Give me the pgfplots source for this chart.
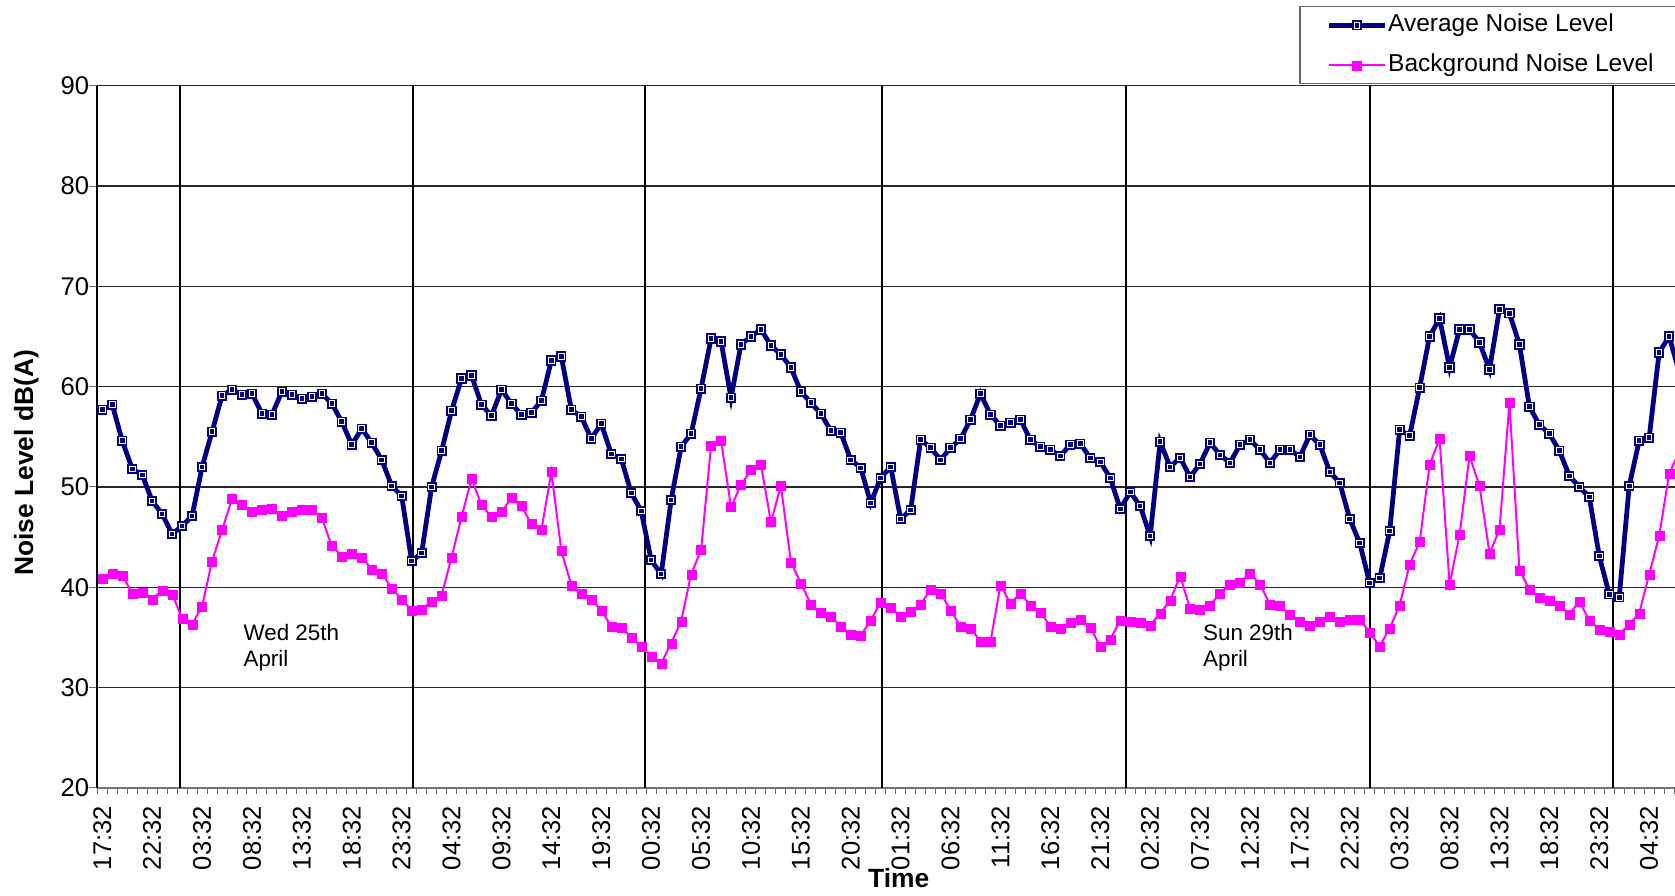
\documentclass[border=0pt]{standalone}
\usepackage{fontspec}
\setmainfont{Liberation Sans}
\usepackage{pgfplots}
\pgfplotsset{compat=1.18}
\usepackage{pgfplotstable}
\definecolor{navyline}{RGB}{0,0,128}
\definecolor{magline}{RGB}{255,0,255}

\pgfdeclareplotmark{dsq}{%
  \pgfpathrectangle{\pgfqpoint{-\pgfplotmarksize}{-\pgfplotmarksize}}{\pgfqpoint{2\pgfplotmarksize}{2\pgfplotmarksize}}%
  \pgfusepathqfill
  \pgfsetstrokecolor{white}\pgfsetlinewidth{0.5pt}%
  \pgfpathrectangle{\pgfqpoint{-0.55\pgfplotmarksize}{-0.55\pgfplotmarksize}}{\pgfqpoint{1.1\pgfplotmarksize}{1.1\pgfplotmarksize}}%
  \pgfusepathqstroke
}

\pgfplotstableread{
i avg bg
0 57.7 40.9
1 58.2 41.4
2 54.6 41.2
3 51.8 39.4
4 51.2 39.5
5 48.6 38.8
6 47.3 39.7
7 45.3 39.3
8 46.1 36.9
9 47.1 36.3
10 52.0 38.1
11 55.5 42.6
12 59.1 45.7
13 59.7 48.8
14 59.2 48.2
15 59.3 47.5
16 57.3 47.7
17 57.2 47.8
18 59.5 47.1
19 59.2 47.5
20 58.8 47.7
21 59.0 47.7
22 59.3 46.9
23 58.3 44.1
24 56.5 43.1
25 54.2 43.4
26 55.8 43.0
27 54.4 41.8
28 52.7 41.4
29 50.1 39.9
30 49.1 38.8
31 42.6 37.7
32 43.4 37.8
33 50.0 38.6
34 53.6 39.2
35 57.6 43.0
36 60.8 47.0
37 61.1 50.8
38 58.2 48.2
39 57.1 47.0
40 59.7 47.5
41 58.3 48.9
42 57.2 48.1
43 57.4 46.3
44 58.6 45.7
45 62.6 51.5
46 63.0 43.6
47 57.7 40.2
48 57.0 39.4
49 54.8 38.8
50 56.3 37.7
51 53.3 36.1
52 52.8 36.0
53 49.4 35.0
54 47.6 34.1
55 42.7 33.1
56 41.3 32.4
57 48.7 34.4
58 54.0 36.6
59 55.3 41.3
60 59.8 43.7
61 64.8 54.1
62 64.5 54.6
63 58.9 48.0
64 64.2 50.2
65 65.0 51.7
66 65.7 52.2
67 64.1 46.5
68 63.2 50.1
69 61.9 42.5
70 59.5 40.4
71 58.4 38.3
72 57.3 37.5
73 55.6 37.1
74 55.4 36.1
75 52.7 35.3
76 51.9 35.2
77 48.4 36.7
78 50.9 38.5
79 52.0 38.0
80 46.8 37.1
81 47.7 37.6
82 54.7 38.3
83 53.9 39.8
84 52.7 39.4
85 53.9 37.7
86 54.8 36.1
87 56.7 35.9
88 59.3 34.6
89 57.2 34.6
90 56.1 40.2
91 56.4 38.4
92 56.7 39.4
93 54.7 38.2
94 54.0 37.5
95 53.7 36.1
96 53.1 35.9
97 54.2 36.5
98 54.3 36.8
99 52.9 36.0
100 52.5 34.1
101 50.9 34.8
102 47.8 36.7
103 49.5 36.6
104 48.1 36.5
105 45.1 36.2
106 54.5 37.4
107 52.0 38.7
108 52.9 41.1
109 51.0 37.9
110 52.3 37.8
111 54.4 38.2
112 53.2 39.4
113 52.4 40.3
114 54.2 40.5
115 54.7 41.4
116 53.7 40.3
117 52.4 38.3
118 53.7 38.2
119 53.7 37.3
120 53.0 36.6
121 55.2 36.2
122 54.2 36.6
123 51.5 37.1
124 50.4 36.6
125 46.8 36.8
126 44.4 36.8
127 40.4 35.5
128 40.9 34.1
129 45.6 35.9
130 55.7 38.2
131 55.1 42.3
132 59.9 44.5
133 65.0 52.2
134 66.8 54.8
135 61.9 40.3
136 65.7 45.2
137 65.7 53.1
138 64.4 50.1
139 61.7 43.4
140 67.7 45.7
141 67.3 58.4
142 64.2 41.7
143 58.0 39.8
144 56.2 39.0
145 55.3 38.7
146 53.6 38.2
147 51.1 37.3
148 50.0 38.6
149 49.0 36.7
150 43.1 35.8
151 39.3 35.6
152 39.0 35.3
153 50.1 36.3
154 54.6 37.4
155 54.9 41.3
156 63.4 45.1
157 65.0 51.3
158 61.5 53.5
}\noisedata

\begin{document}
\begin{tikzpicture}
\useasboundingbox (-48.65pt,-53.6pt) rectangle (788.85pt,393.9pt);
\begin{axis}[
  at={(0,0)}, anchor=south west,
  scale only axis, width=788.85pt, height=351.05pt,
  xmin=-0.5, xmax=157.59, ymin=20, ymax=90,
  axis x line*=bottom, axis y line*=left,
  x axis line style={black!55, line width=0.9pt},
  y axis line style={black, line width=0.8pt},
  ytick={20,30,...,90},
  xtick={0,5,...,155},
  xticklabels={17:32,22:32,03:32,08:32,13:32,18:32,23:32,04:32,09:32,14:32,19:32,00:32,05:32,10:32,15:32,20:32,01:32,06:32,11:32,16:32,21:32,02:32,07:32,12:32,17:32,22:32,03:32,08:32,13:32,18:32,23:32,04:32},
  minor xtick={-0.5,0.5,...,157.5},
  major x tick style={draw=none},
  tick align=outside,
  major tick length=3.9pt,
  minor tick length=2.9pt,
  tick style={black!60, line width=0.5pt},
  ymajorgrids,
  grid style={black!85, line width=0.6pt},
  /pgf/number format/assume math mode=true,
  yticklabel style={font=\fontsize{12.8}{15}\selectfont, anchor=east, inner sep=0pt},
  xticklabel style={font=\fontsize{12.8}{15}\selectfont, rotate=90, anchor=east, inner sep=0pt},
  xticklabel shift=5pt,
  xlabel={Time},
  ylabel={Noise Level dB(A)},
  xlabel style={font=\fontsize{13.2}{15}\selectfont\bfseries, at={(axis description cs:0.508,0)}, anchor=base, yshift=-50pt},
  ylabel style={font=\fontsize{13.2}{15}\selectfont\bfseries, at={(axis description cs:-0.0406,0.463)}, anchor=base, rotate=0},
  legend style={at={(0.7619,1.1135)}, anchor=north west, draw=black!60, line width=0.6pt, fill=white,
    font=\fontsize{12.25}{14}\selectfont, inner xsep=13.3pt, inner ysep=3.5pt, row sep=8.4pt,
    column sep=0.4pt, nodes={inner sep=0pt, text height=9pt, text depth=2.6pt}},
  legend cell align=left,
  legend image code/.code={\draw[mark repeat=2,mark phase=2,#1] plot coordinates {(0pt,0pt) (14pt,0pt) (28pt,0pt)};},
]
\addplot[black, line width=1.1pt, forget plot] coordinates {(7.8,20) (7.8,90)};
\addplot[black, line width=1.1pt, forget plot] coordinates {(31.1,20) (31.1,90)};
\addplot[black, line width=1.1pt, forget plot] coordinates {(54.4,20) (54.4,90)};
\addplot[black, line width=1.1pt, forget plot] coordinates {(78.1,20) (78.1,90)};
\addplot[black, line width=1.1pt, forget plot] coordinates {(102.6,20) (102.6,90)};
\addplot[black, line width=1.1pt, forget plot] coordinates {(127.0,20) (127.0,90)};
\addplot[black, line width=1.1pt, forget plot] coordinates {(151.4,20) (151.4,90)};

\addplot[navyline, line width=2.4pt, mark=dsq, mark size=2.55pt,
  mark options={solid, fill=navyline}]
  table[x=i, y=avg] {\noisedata};
\addlegendentry{Average Noise Level}
\addplot[magline, line width=1pt, mark=square*, mark size=2.25pt,
  mark options={solid, fill=magline, draw=magline, line width=0.1pt}]
  table[x=i, y=bg] {\noisedata};
\addlegendentry{Background Noise Level}

\node[anchor=base west, font=\fontsize{11.2}{13}\selectfont] at (axis cs:13.45,34.67) {Wed 25th};
\node[anchor=base west, font=\fontsize{11.2}{13}\selectfont] at (axis cs:13.45,32.1) {April};
\node[anchor=base west, font=\fontsize{11.2}{13}\selectfont] at (axis cs:109.6,34.67) {Sun 29th};
\node[anchor=base west, font=\fontsize{11.2}{13}\selectfont] at (axis cs:109.6,32.1) {April};
\end{axis}
\end{tikzpicture}
\end{document}
